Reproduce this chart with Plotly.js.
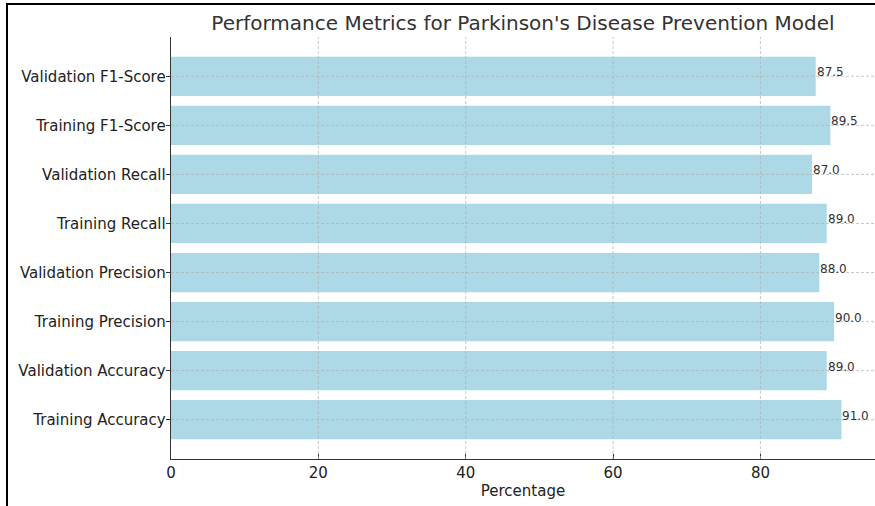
<!DOCTYPE html>
<html>
<head>
<meta charset="utf-8">
<script src="https://cdn.plot.ly/plotly-3.0.1.min.js"></script>
<style>
  html, body { margin: 0; padding: 0; background: #fff; }
  #wrap { position: relative; width: 875px; height: 506px; overflow: hidden; }
  #chart { position: absolute; left: 0; top: 0; width: 875px; height: 506px; }
  #frame { position: absolute; left: 6px; top: 3px; width: 900px; height: 600px;
           border-left: 2px solid #000; border-top: 2px solid #000; pointer-events: none; }
</style>
</head>
<body>
<div id="wrap">
  <div id="chart"></div>
  <div id="frame"></div>
</div>
<script>
const categories = [
  "Training Accuracy", "Validation Accuracy",
  "Training Precision", "Validation Precision",
  "Training Recall", "Validation Recall",
  "Training F1-Score", "Validation F1-Score"
];
const values = [91.0, 89.0, 90.0, 88.0, 89.0, 87.0, 89.5, 87.5];
const xTicks = [0, 20, 40, 60, 80];
const titleText = "Performance Metrics for Parkinson's Disease Prevention Model";

const FONT = "DejaVu Sans, sans-serif";
const gridStyle = { color: "rgba(176,176,176,0.7)", width: 1, dash: "3px,2px" };

const shapes = [];
xTicks.filter(v => v > 0).forEach(v => shapes.push({
  type: "line", xref: "x", yref: "paper", x0: v, x1: v, y0: 0, y1: 1,
  line: gridStyle, layer: "above"
}));
categories.forEach((c, i) => shapes.push({
  type: "line", xref: "paper", yref: "y", x0: 0, x1: 1, y0: i, y1: i,
  line: gridStyle, layer: "above"
}));

const annotations = values.map((v, i) => ({
  x: v, y: i, xref: "x", yref: "y",
  text: v.toFixed(1), showarrow: false,
  xanchor: "left", yanchor: "middle", xshift: -1, yshift: 4,
  font: { family: FONT, size: 12, color: "#333" }
}));

const trace = {
  type: "bar", orientation: "h",
  y: categories.map((c, i) => i), x: values,
  width: 0.8,
  marker: { color: "#ADD8E6", line: { width: 0 } },
  hoverinfo: "skip"
};

const layout = {
  width: 875, height: 506,
  margin: { l: 171, r: 0, t: 37, b: 47, pad: 0 },
  paper_bgcolor: "#fff", plot_bgcolor: "#fff",
  font: { family: FONT, color: "#222" },
  showlegend: false,
  title: {
    text: titleText,
    font: { family: FONT, size: 20, color: "#333" },
    xref: "paper", x: 0.5, xanchor: "center",
    yref: "container", y: 1 - 23 / 506, yanchor: "middle"
  },
  xaxis: {
    range: [0, 95.55],
    tickvals: xTicks, ticktext: xTicks.map(String),
    showgrid: false, zeroline: false,
    showline: true, linecolor: "#333", linewidth: 1.3,
    ticks: "inside", ticklen: 5, tickcolor: "#333", tickwidth: 1,
    tickfont: { family: FONT, size: 15, color: "#222" },
    title: { text: "Percentage", font: { family: FONT, size: 15, color: "#222" }, standoff: 4 },
    fixedrange: true
  },
  yaxis: {
    range: [-0.8, 7.8],
    tickvals: categories.map((c, i) => i), ticktext: categories,
    showgrid: false, zeroline: false,
    showline: true, linecolor: "#333", linewidth: 1.3,
    ticks: "outside", ticklen: 4, tickcolor: "#333", tickwidth: 1,
    ticklabelstandoff: -3,
    tickfont: { family: FONT, size: 15, color: "#222" },
    fixedrange: true
  },
  shapes: shapes,
  annotations: annotations
};

Plotly.newPlot("chart", [trace], layout, { displayModeBar: false, staticPlot: true });
</script>
</body>
</html>
